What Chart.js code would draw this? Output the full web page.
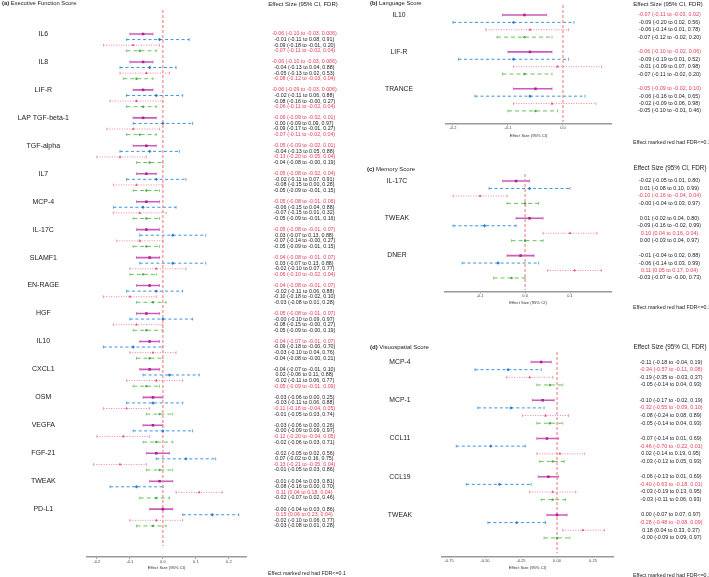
<!DOCTYPE html>
<html>
<head>
<meta charset="utf-8">
<script src="https://cdn.jsdelivr.net/npm/chart.js@4.4.1/dist/chart.umd.min.js"></script>
<style>
  body { margin: 0; width: 709px; height: 577px; position: relative; overflow: hidden; background: #fff;
         font-family: "Liberation Sans", Arial, sans-serif; color: #222; }
  canvas { position: absolute; }
  .t { position: absolute; white-space: nowrap; line-height: 1; }
  .c { transform: translateX(-50%); }
</style>
</head>
<body>
<canvas id="exec" width="345" height="577" style="left:0;top:0"></canvas>
<canvas id="lang" width="359" height="140" style="left:350px;top:0"></canvas>
<canvas id="mem" width="359" height="157" style="left:350px;top:150px"></canvas>
<canvas id="vis" width="359" height="237" style="left:350px;top:340px"></canvas>

<div class="t" style="left:2px;top:1px;font-size:5.8px"><b>(a)</b> Executive Function Score</div>
<div class="t c" style="left:303px;top:1px;font-size:6px">Effect Size (95% CI, FDR)</div>
<div class="t" style="left:268px;top:571px;font-size:5.3px">Effect marked red had FDR&lt;=0.1</div>

<div class="t" style="left:370px;top:1px;font-size:5.8px"><b>(b)</b> Language Score</div>
<div class="t c" style="left:668px;top:1px;font-size:6px">Effect Size (95% CI, FDR)</div>
<div class="t" style="left:633px;top:140px;font-size:5.3px">Effect marked red had FDR&lt;=0.1</div>

<div class="t" style="left:367px;top:166px;font-size:6px"><b>(c)</b> Memory Score</div>
<div class="t c" style="left:670px;top:165px;font-size:6.3px">Effect Size (95% CI, FDR)</div>
<div class="t" style="left:633px;top:305px;font-size:5.3px">Effect marked red had FDR&lt;=0.1</div>

<div class="t" style="left:370px;top:344px;font-size:6px"><b>(d)</b> Visuospatial Score</div>
<div class="t c" style="left:670px;top:344px;font-size:6.3px">Effect Size (95% CI, FDR)</div>
<div class="t" style="left:633px;top:573px;font-size:5.3px">Effect marked red had FDR&lt;=0.1</div>

<script>
// (a) Executive function
const execMarkers = ["IL6", "IL8", "LIF-R", "LAP TGF-beta-1", "TGF-alpha", "IL7", "MCP-4", "IL-17C", "SLAMF1",
  "EN-RAGE", "HGF", "IL10", "CXCL1", "OSM", "VEGFA", "FGF-21", "TWEAK", "PD-L1"];
const execEst = [[-0.06, -0.01, -0.09, -0.07], [-0.06, -0.04, -0.05, -0.08], [-0.06, -0.02, -0.08, -0.06],
  [-0.06, 0.00, -0.09, -0.07], [-0.05, -0.04, -0.13, -0.04], [-0.05, -0.02, -0.08, -0.05],
  [-0.05, -0.06, -0.07, -0.05], [-0.05, 0.03, -0.07, -0.05], [-0.04, 0.03, -0.02, -0.06],
  [-0.04, -0.02, -0.10, -0.03], [-0.05, -0, -0.08, -0.05], [-0.04, -0.09, -0.03, -0.04],
  [-0.04, 0.02, -0.02, -0.05], [-0.03, -0.03, -0.11, -0.01], [-0.03, -0, -0.12, -0.02],
  [-0.02, 0.07, -0.13, -0.01], [-0.01, -0.08, 0.11, -0.02], [-0, 0.15, -0.02, -0.03]];
const execLo = [[-0.10, -0.11, -0.18, -0.11], [-0.10, -0.13, -0.13, -0.12], [-0.09, -0.11, -0.16, -0.11],
  [-0.09, -0.09, -0.17, -0.11], [-0.09, -0.13, -0.20, -0.08], [-0.08, -0.11, -0.15, -0.09],
  [-0.08, -0.15, -0.15, -0.09], [-0.08, -0.07, -0.14, -0.09], [-0.08, -0.07, -0.10, -0.10],
  [-0.08, -0.11, -0.18, -0.08], [-0.08, -0.10, -0.15, -0.09], [-0.07, -0.18, -0.10, -0.08],
  [-0.07, -0.06, -0.11, -0.09], [-0.06, -0.11, -0.18, -0.05], [-0.06, -0.09, -0.20, -0.06],
  [-0.05, -0.02, -0.21, -0.05], [-0.04, -0.16, 0.04, -0.07], [-0.04, 0.06, -0.10, -0.08]];
const execHi = [[-0.03, 0.08, -0.01, -0.02], [-0.03, 0.04, 0.02, -0.03], [-0.03, 0.06, -0, -0.02],
  [-0.02, 0.09, -0.01, -0.02], [-0.02, 0.05, -0.05, -0], [-0.02, 0.07, 0.00, -0.01],
  [-0.01, 0.04, 0.01, -0.01], [-0.01, 0.13, -0, -0.01], [-0.01, 0.13, 0.07, -0.02],
  [-0.01, 0.06, -0.02, 0.01], [-0.01, 0.09, -0, -0], [-0.01, -0, 0.04, -0],
  [-0.01, 0.11, 0.06, -0.01], [0.00, 0.06, -0.04, 0.03], [0.00, 0.09, -0.04, 0.03],
  [0.02, 0.16, -0.05, 0.03], [0.03, 0.00, 0.18, 0.02], [0.03, 0.23, 0.06, 0.01]];
const execFdr = [[0.006, 0.91, 0.20, 0.04], [0.006, 0.88, 0.53, 0.04], [0.006, 0.88, 0.27, 0.04],
  [0.01, 0.97, 0.27, 0.04], [0.01, 0.88, 0.04, 0.19], [0.04, 0.91, 0.28, 0.15],
  [0.06, 0.88, 0.32, 0.16], [0.07, 0.88, 0.27, 0.15], [0.07, 0.88, 0.77, 0.04],
  [0.07, 0.88, 0.10, 0.28], [0.07, 0.97, 0.27, 0.19], [0.07, 0.70, 0.76, 0.21],
  [0.10, 0.88, 0.77, 0.09], [0.25, 0.88, 0.05, 0.74], [0.26, 0.97, 0.05, 0.71],
  [0.56, 0.75, 0.04, 0.86], [0.81, 0.70, 0.04, 0.46], [0.86, 0.04, 0.77, 0.28]];
const execSig = [[1, 0, 0, 1], [1, 0, 0, 1], [1, 0, 0, 1], [1, 0, 0, 1], [1, 0, 1, 0], [1, 0, 0, 0],
  [1, 0, 0, 0], [1, 0, 0, 0], [1, 0, 0, 1], [1, 0, 0, 0], [1, 0, 0, 0], [1, 0, 0, 0],
  [0, 0, 0, 1], [0, 0, 1, 0], [0, 0, 1, 0], [0, 0, 1, 0], [0, 0, 1, 0], [0, 1, 0, 0]];

// (b) Language
const langMarkers = ["IL10", "LIF-R", "TRANCE"];
const langEst = [[-0.07, -0.09, -0.06, -0.07], [-0.06, -0.09, -0.01, -0.07], [-0.05, -0.06, -0.02, -0.05]];
const langLo = [[-0.11, -0.20, -0.14, -0.12], [-0.10, -0.19, -0.09, -0.11], [-0.09, -0.16, -0.09, -0.10]];
const langHi = [[-0.03, 0.02, 0.01, -0.02], [-0.02, 0.01, 0.07, -0.02], [-0.02, 0.04, 0.06, -0.01]];
const langFdr = [[0.02, 0.56, 0.78, 0.20], [0.06, 0.52, 0.98, 0.20], [0.10, 0.65, 0.98, 0.46]];
const langSig = [[1, 0, 0, 0], [1, 0, 0, 0], [1, 0, 0, 0]];

// (c) Memory
const memMarkers = ["IL-17C", "TWEAK", "DNER"];
const memEst = [[-0.02, 0.01, -0.10, -0], [0.01, -0.09, 0.10, 0.00], [-0.01, -0.06, 0.11, -0.03]];
const memLo = [[-0.05, -0.08, -0.16, -0.04], [-0.02, -0.16, 0.04, -0.03], [-0.04, -0.14, 0.05, -0.07]];
const memHi = [[0.01, 0.10, -0.04, 0.03], [0.04, -0.02, 0.16, 0.04], [0.02, 0.03, 0.17, -0]];
const memFdr = [[0.80, 0.99, 0.04, 0.97], [0.80, 0.99, 0.04, 0.97], [0.88, 0.99, 0.04, 0.73]];
const memSig = [[0, 0, 1, 0], [0, 0, 1, 0], [0, 0, 1, 0]];

// (d) Visuospatial
const visMarkers = ["MCP-4", "MCP-1", "CCL11", "CCL19", "TWEAK"];
const visEst = [[-0.11, -0.34, -0.19, -0.05], [-0.10, -0.32, -0.08, -0.05], [-0.07, -0.46, 0.02, -0.03],
  [-0.06, -0.40, -0.03, -0.03], [0.00, -0.28, 0.18, -0]];
const visLo = [[-0.18, -0.57, -0.35, -0.14], [-0.17, -0.55, -0.24, -0.14], [-0.14, -0.70, -0.14, -0.12],
  [-0.13, -0.63, -0.19, -0.11], [-0.07, -0.48, 0.04, -0.09]];
const visHi = [[-0.04, -0.11, -0.03, 0.04], [-0.02, -0.09, 0.08, 0.04], [0.01, -0.22, 0.19, 0.05],
  [0.01, -0.18, 0.13, 0.06], [0.07, -0.08, 0.33, 0.09]];
const visFdr = [[0.19, 0.08, 0.37, 0.93], [0.19, 0.10, 0.89, 0.93], [0.69, 0.01, 0.95, 0.93],
  [0.69, 0.01, 0.95, 0.93], [0.97, 0.09, 0.37, 0.97]];
const visSig = [[0, 1, 0, 0], [0, 1, 0, 0], [0, 1, 0, 0], [0, 1, 0, 0], [0, 1, 0, 0]];

const execTicks = [-0.2, -0.1, 0, 0.1, 0.2];
const langTicks = [-0.2, -0.1, 0];
const memTicks = [-0.1, 0, 0.1];
const visTicks = [-0.75, -0.5, -0.25, 0, 0.25];

// one style per model row inside each marker group
const seriesStyle = [
  { line: "#cc5cbc", point: "#b01f92", width: 1.6, dash: [], shape: "rect", r: 1.8 },
  { line: "#3f92df", point: "#2a7bd0", width: 1, dash: [3, 2.5], shape: "rectRot", r: 1.7 },
  { line: "#f285a2", point: "#e44b7c", width: 1, dash: [1, 1.5], shape: "triangle", r: 1.7 },
  { line: "#6cc061", point: "#4fa846", width: 1, dash: [4, 3], shape: "circle", r: 1.2 },
];
const RED = "#e8405a";
const FONT = "'Liberation Sans', Arial, sans-serif";

function fmt(v) {
  return (v < 0 || Object.is(v, -0) ? "-" : "") + Math.abs(v).toFixed(2);
}
function fmtFdr(v) {
  return v < 0.01 ? v.toFixed(3) : v.toFixed(2);
}

function drawPanel(id, markers, est, lo, hi, fdr, sig, xTicks, cfg) {
  const rowY = (g, s) => g * 5 + s;
  const datasets = [];

  seriesStyle.forEach((st, s) => {
    const ci = [];
    markers.forEach((m, g) => {
      ci.push({ x: lo[g][s], y: rowY(g, s) }, { x: hi[g][s], y: rowY(g, s) }, { x: NaN, y: NaN });
    });
    datasets.push({
      data: ci, borderColor: st.line, borderWidth: st.width, borderDash: st.dash, spanGaps: false,
      pointStyle: "line", rotation: 90, pointRadius: 1.4, pointBorderColor: st.line, pointBorderWidth: 0.8,
      order: 3,
    });
    datasets.push({
      data: markers.map((m, g) => ({ x: est[g][s], y: rowY(g, s) })), showLine: false,
      pointStyle: st.shape, pointRadius: st.r, pointBackgroundColor: st.point, pointBorderColor: st.point,
      pointBorderWidth: 0, order: 1,
    });
  });

  datasets.push({
    data: [{ x: 0, y: cfg.zeroFrom }, { x: 0, y: cfg.zeroTo }], borderColor: "#f28b8b", borderWidth: 1.2,
    borderDash: [3, 2], pointRadius: 0, order: 2,
  });

  const rowTicks = [];
  markers.forEach((m, g) => seriesStyle.forEach((st, s) => rowTicks.push(rowY(g, s))));

  // tick padding is only used to place labels sideways, so drop the vertical padding it adds
  const pinY = (w) => (sc) => { sc.width = w; sc.paddingTop = 0; sc.paddingBottom = 0; };

  new Chart(document.getElementById(id), {
    type: "line",
    data: { datasets },
    options: {
      responsive: false,
      animation: false,
      events: [],
      layout: { padding: { top: cfg.top, left: 0, right: 0, bottom: 0 } },
      plugins: { legend: { display: false }, tooltip: { enabled: false } },
      scales: {
        x: {
          type: "linear", min: cfg.xMin, max: cfg.xMax,
          afterBuildTicks: (sc) => { sc.ticks = xTicks.map((v) => ({ value: v })); },
          afterFit: (sc) => { sc.height = cfg.xH; sc.paddingLeft = 0; sc.paddingRight = 0; },
          grid: { display: true, drawOnChartArea: false, drawTicks: true, tickLength: cfg.tl, color: "#9a9a9a" },
          border: { display: true, color: "#9a9a9a", width: 1.5 },
          ticks: {
            padding: cfg.tickPad, color: "#444", font: { family: FONT, size: 4 }, maxRotation: 0,
            callback: (v) => v.toFixed(cfg.dec),
          },
          title: {
            display: true, text: "Effect Size (95% CI)", color: "#333", font: { family: FONT, size: 4.2 },
            padding: { top: 0, bottom: cfg.titlePad },
          },
        },
        y: {
          type: "linear", reverse: true, min: cfg.yMin, max: cfg.yMax, position: "left",
          afterBuildTicks: (sc) => { sc.ticks = markers.map((m, g) => ({ value: rowY(g, 0) })); },
          afterFit: pinY(cfg.leftW),
          grid: { display: false, drawTicks: false },
          border: { display: false },
          ticks: {
            autoSkip: false, crossAlign: "center", padding: cfg.leftPad, color: "#222",
            font: { family: FONT, size: cfg.labelSize },
            callback: (v) => markers[Math.round(v / 5)],
          },
        },
        y2: {
          type: "linear", reverse: true, min: cfg.yMin, max: cfg.yMax, position: "right",
          afterBuildTicks: (sc) => { sc.ticks = rowTicks.map((v) => ({ value: v })); },
          afterFit: pinY(cfg.rightW),
          grid: { display: false, drawTicks: false },
          border: { display: false },
          ticks: {
            autoSkip: false, crossAlign: "center", padding: cfg.rightPad,
            font: { family: FONT, size: cfg.valueSize },
            color: (c) => (sig[Math.floor(c.index / 4)][c.index % 4] ? RED : "#222"),
            callback: (v, i) => {
              const g = Math.floor(i / 4), s = i % 4;
              return `${fmt(est[g][s])} (${fmt(lo[g][s])} to ${fmt(hi[g][s])}, ${fmtFdr(fdr[g][s])})`;
            },
          },
        },
      },
    },
  });
}

drawPanel("exec", execMarkers, execEst, execLo, execHi, execFdr, execSig, execTicks, {
  top: 10, xH: 20, tl: 2, tickPad: 0.5, titlePad: 6.5, dec: 1,
  xMin: -0.23, xMax: 0.252, yMin: -4.29, yMax: 93.56, zeroFrom: -4.29, zeroTo: 91.6,
  leftW: 87, rightW: 99, leftPad: 18, rightPad: 26, labelSize: 7, valueSize: 5.3,
});

drawPanel("lang", langMarkers, langEst, langLo, langHi, langFdr, langSig, langTicks, {
  top: 5, xH: 16, tl: 1.5, tickPad: 0, titlePad: 1.6, dec: 1,
  xMin: -0.2127, xMax: 0.0873, yMin: -1.355, yMax: 14.77, zeroFrom: -1.355, zeroTo: 14.5,
  leftW: 96, rightW: 98, leftPad: 33, rightPad: 27, labelSize: 6.8, valueSize: 5.4,
});

drawPanel("mem", memMarkers, memEst, memLo, memHi, memFdr, memSig, memTicks, {
  top: 24, xH: 15, tl: 1.5, tickPad: 0, titlePad: 1.6, dec: 1,
  xMin: -0.178, xMax: 0.191, yMin: -0.94, yMax: 14.88, zeroFrom: -0.94, zeroTo: 14.6,
  leftW: 95, rightW: 98, leftPad: 36, rightPad: 27, labelSize: 6.8, valueSize: 5.4,
});

drawPanel("vis", visMarkers, visEst, visLo, visHi, visFdr, visSig, visTicks, {
  top: 12, xH: 20, tl: 1, tickPad: 0, titlePad: 6.6, dec: 2,
  xMin: -0.799, xMax: 0.389, yMin: -1.31, yMax: 25.5, zeroFrom: -1.31, zeroTo: 25.0,
  leftW: 92, rightW: 96, leftPad: 30, rightPad: 26.5, labelSize: 6.8, valueSize: 5.4,
});
</script>
</body>
</html>
